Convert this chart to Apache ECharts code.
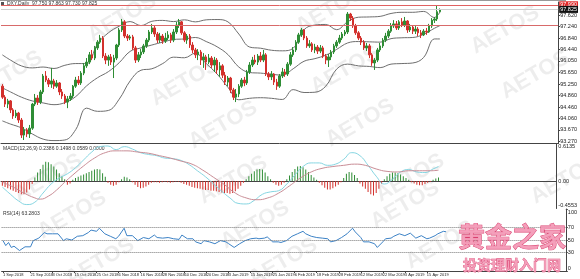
<!DOCTYPE html>
<html><head><meta charset="utf-8">
<script src="https://cdn.jsdelivr.net/npm/echarts@6/dist/echarts.min.js"></script>
<style>html,body{margin:0;padding:0;background:#fff}#c{width:580px;height:279px}</style>
</head><body><div id="c"></div>
<script>
// ---------- data ----------
const dateLabels = ["1 Sep 2018","21 Sep 2018","3 Oct 2018","15 Oct 2018","25 Oct 2018","6 Nov 2018","16 Nov 2018","28 Nov 2018","10 Dec 2018","20 Dec 2018","3 Jan 2019","15 Jan 2019","25 Jan 2019","6 Feb 2019","18 Feb 2019","28 Feb 2019","12 Mar 2019","22 Mar 2019","3 Apr 2019","15 Apr 2019"];
const dateLabelBars = [0,10,18,26,34,42,50,58,66,74,82,90,98,106,114,122,130,138,146,154];
const slotCount = 205;

const open = [95.18,94.80,94.56,94.67,94.36,94.15,94.25,94.01,93.49,93.67,93.53,93.73,94.56,94.77,94.63,94.98,95.53,95.39,95.25,95.36,95.18,95.29,94.98,94.84,94.63,94.74,94.84,95.18,95.39,95.29,95.63,95.88,96.01,96.26,96.15,96.50,96.70,96.84,96.22,96.08,96.19,96.01,96.15,96.60,97.12,97.40,96.91,96.84,96.88,96.50,96.08,96.26,96.36,96.57,96.77,97.05,97.19,96.98,96.77,96.91,96.74,96.84,96.95,96.77,97.05,97.29,97.40,97.02,96.77,96.91,96.60,96.43,96.26,96.36,96.08,96.19,96.01,96.15,95.91,96.08,95.74,95.88,95.56,95.32,95.46,95.05,94.80,94.91,95.18,95.39,95.29,95.67,95.91,96.08,96.01,96.22,96.08,96.26,95.60,95.50,95.60,95.32,95.18,95.53,95.67,95.60,95.94,96.26,96.43,96.70,96.95,97.12,96.84,96.57,96.64,96.43,96.53,96.39,96.50,96.22,96.08,96.19,96.36,96.57,96.70,96.84,96.98,97.05,97.67,97.53,97.26,97.02,96.84,96.70,96.50,96.57,96.26,95.98,96.08,96.43,96.57,96.77,96.91,97.08,97.26,97.33,97.19,97.40,97.29,97.43,97.12,97.22,97.08,97.15,97.02,96.95,97.08,97.05,97.26,97.46,97.50,97.75];
const close = [94.80,94.56,94.67,94.36,94.15,94.25,94.01,93.49,93.67,93.53,93.73,94.56,94.77,94.63,94.98,95.53,95.39,95.25,95.36,95.18,95.29,94.98,94.84,94.63,94.74,94.84,95.18,95.39,95.29,95.63,95.88,96.01,96.26,96.15,96.50,96.70,96.84,96.22,96.08,96.19,96.01,96.15,96.60,97.12,97.40,96.91,96.84,96.88,96.50,96.08,96.26,96.36,96.57,96.77,97.05,97.19,96.98,96.77,96.91,96.74,96.84,96.95,96.77,97.05,97.29,97.40,97.02,96.77,96.91,96.60,96.43,96.26,96.36,96.08,96.19,96.01,96.15,95.91,96.08,95.74,95.88,95.56,95.32,95.46,95.05,94.80,94.91,95.18,95.39,95.29,95.67,95.91,96.08,96.01,96.22,96.08,96.26,95.60,95.50,95.60,95.32,95.18,95.53,95.67,95.60,95.94,96.26,96.43,96.70,96.95,97.12,96.84,96.57,96.64,96.43,96.53,96.39,96.50,96.22,96.08,96.19,96.36,96.57,96.70,96.84,96.98,97.05,97.67,97.53,97.26,97.02,96.84,96.70,96.50,96.57,96.26,95.98,96.08,96.43,96.57,96.77,96.91,97.08,97.26,97.33,97.19,97.40,97.29,97.43,97.12,97.22,97.08,97.15,97.02,96.95,97.08,97.05,97.26,97.46,97.50,97.75,97.825];
const high = [95.25,94.87,94.74,94.70,94.42,94.36,94.29,94.08,93.77,93.73,93.84,94.60,94.91,94.87,95.05,95.60,95.70,95.46,95.81,95.43,95.39,95.32,95.08,94.91,94.84,94.94,95.22,95.50,95.53,95.70,95.98,96.15,96.36,96.43,96.57,96.77,96.95,96.91,96.32,96.26,96.29,96.26,96.64,97.19,97.50,97.46,96.98,96.95,96.95,96.57,96.36,96.46,96.64,96.84,97.12,97.33,97.26,97.05,97.02,96.98,97.02,97.08,97.02,97.15,97.40,97.50,97.43,97.08,96.98,96.98,96.70,96.50,96.46,96.43,96.32,96.26,96.29,96.22,96.19,96.15,96.01,95.94,95.67,95.53,95.50,95.12,95.08,95.25,95.46,95.50,95.74,96.01,96.19,96.26,96.29,96.36,96.43,96.32,95.67,95.70,95.63,95.43,95.60,95.81,95.77,96.01,96.36,96.53,96.77,97.02,97.19,97.15,96.91,96.77,96.70,96.64,96.60,96.60,96.57,96.29,96.29,96.43,96.64,96.77,96.95,97.05,97.12,97.74,97.71,97.60,97.33,97.08,96.91,96.77,96.67,96.64,96.32,96.15,96.50,96.67,96.84,97.02,97.15,97.36,97.46,97.43,97.46,97.53,97.57,97.46,97.33,97.29,97.26,97.22,97.12,97.15,97.19,97.33,97.53,97.57,97.95,97.863];
const low = [94.74,94.46,94.42,94.25,94.05,94.08,93.91,93.39,93.32,93.42,93.39,93.67,94.49,94.53,94.56,94.91,95.32,95.15,95.12,95.08,95.12,94.87,94.74,94.56,94.42,94.67,94.77,95.12,95.22,95.22,95.56,95.81,95.94,96.08,96.08,96.43,96.64,96.15,95.94,95.88,95.91,95.46,96.08,96.53,97.05,96.84,96.74,96.77,96.43,95.98,96.01,96.15,96.29,96.50,96.70,96.98,96.88,96.67,96.67,96.64,96.67,96.77,96.67,96.70,96.98,97.19,96.95,96.70,96.64,96.50,96.32,96.15,96.08,95.91,95.81,95.74,95.94,95.81,95.67,95.60,95.50,95.46,95.22,95.18,94.94,94.70,94.63,94.80,95.12,95.18,95.22,95.60,95.84,95.94,95.91,96.01,96.01,95.53,95.39,95.39,95.22,95.05,95.12,95.46,95.50,95.53,95.88,96.19,96.36,96.64,96.88,96.77,96.50,96.50,96.36,96.32,96.29,96.32,96.15,95.94,95.84,96.08,96.29,96.50,96.64,96.77,96.91,96.98,97.43,97.19,96.95,96.77,96.60,96.43,96.39,96.15,95.88,95.74,96.01,96.36,96.50,96.70,96.84,97.02,97.19,97.12,97.12,97.22,97.22,97.02,97.05,96.98,96.98,96.91,96.84,96.91,96.95,97.02,97.19,97.36,97.43,97.73];

const bbBars   = [0,3,7,11,15,19,23,27,31,35,39,43,47,51,55,59,63,67,71,75,79,83,87,91,95,99,103,107,111,115,119,123,127,131,135,139,143,147,151,155,159,161];
const bbUpper  = [96.26,96.08,95.88,95.81,95.84,95.79,95.90,95.96,95.96,96.64,97.02,97.25,97.41,97.27,97.42,97.45,97.41,97.47,97.40,97.47,97.48,97.40,96.98,96.53,96.49,96.42,96.40,96.49,97.13,97.29,97.31,97.13,97.40,97.56,97.57,97.59,97.69,97.73,97.73,97.76,97.55,97.74];
const bbMiddle = [95.12,94.98,94.80,94.67,94.60,94.54,94.61,94.82,95.19,95.47,95.68,95.99,96.38,96.50,96.60,96.70,96.79,96.81,96.86,96.72,96.54,96.27,95.84,95.65,95.63,95.59,95.56,95.78,96.04,96.13,96.25,96.45,96.67,96.72,96.71,96.70,96.82,96.85,96.86,96.97,97.18,97.27];
const bbLower  = [93.98,93.87,93.74,93.53,93.35,93.30,93.32,93.68,94.42,94.31,94.34,94.73,95.36,95.73,95.78,95.96,96.18,96.16,96.32,95.96,95.60,95.14,94.71,94.76,94.78,94.76,94.72,95.06,94.96,94.97,95.18,95.77,95.94,95.88,95.86,95.82,95.94,95.96,95.98,96.17,96.81,96.81];

const priceTicks = [97.620,97.240,96.840,96.440,96.050,95.650,95.250,94.860,94.460,94.060,93.670,93.270];
const levelLines = [97.99, 97.29];
const lastPrice = 97.825;

const macdHist = [-0.08,-0.10,-0.12,-0.14,-0.16,-0.18,-0.20,-0.22,-0.22,-0.19,-0.14,-0.05,
 0.06,0.14,0.20,0.27,0.32,0.31,0.28,0.24,0.19,0.13,0.08,0.03,
 -0.06,-0.04,
 0.02,0.05,0.07,0.09,0.11,0.13,0.15,0.17,0.19,0.20,0.19,0.13,0.07,
 -0.03,-0.06,-0.08,-0.06,-0.02,
 0.03,0.07,0.06,0.03,
 -0.02,-0.06,-0.10,-0.12,-0.11,-0.09,-0.06,-0.03,
 -0.02,-0.02,-0.03,-0.02,-0.01,-0.02,-0.03,-0.02,-0.01,-0.01,
 -0.03,-0.05,-0.06,-0.08,-0.10,-0.11,-0.12,-0.13,-0.14,-0.15,-0.15,-0.16,-0.16,-0.17,-0.18,-0.19,-0.20,-0.20,-0.21,-0.20,-0.17,-0.13,-0.08,-0.03,
 0.03,0.08,0.12,0.16,0.19,0.20,0.19,0.14,0.08,0.03,
 -0.03,-0.06,-0.08,-0.06,-0.03,
 0.03,0.09,0.15,0.20,0.24,0.25,0.23,0.19,0.15,0.10,0.06,0.02,
 -0.03,-0.07,-0.11,-0.14,-0.14,-0.12,-0.09,-0.06,-0.02,
 0.05,0.12,0.15,0.14,0.10,0.05,
 -0.04,-0.09,-0.13,-0.18,-0.22,-0.24,-0.20,-0.13,-0.05,
 0.03,0.08,0.12,0.14,0.14,0.13,0.11,0.08,0.05,0.02,
 -0.02,-0.04,-0.06,-0.07,-0.07,-0.05,-0.03,-0.01,
 0.02,0.04,0.0589];
const macdMainBars = [0,3,6,9,12,15,18,21,24,27,30,33,36,39,42,45,48,51,54,57,60,63,66,69,72,75,78,81,84,87,90,93,96,99,102,105,108,111,114,117,120,123,126,129,132,135,138,141,144,147,150,153,156,159,161];
const macdMain = [-0.10,-0.22,-0.33,-0.39,-0.35,-0.20,-0.05,0.05,0.12,0.22,0.35,0.48,0.57,0.58,0.52,0.57,0.53,0.47,0.44,0.42,0.38,0.37,0.34,0.27,0.17,0.07,-0.05,-0.17,-0.28,-0.37,-0.38,-0.32,-0.22,-0.18,-0.16,-0.05,0.10,0.24,0.30,0.30,0.26,0.28,0.36,0.47,0.42,0.26,0.08,-0.05,0.03,0.15,0.19,0.15,0.14,0.20,0.24];
const macdSignalBars = [0,4,8,12,14,17,20,23,26,30,34,38,42,46,50,54,58,62,66,70,74,78,82,86,90,94,98,102,106,110,114,118,122,126,130,134,138,142,146,150,154,158,161];
const macdSignal = [-0.02,-0.10,-0.20,-0.28,-0.30,-0.25,-0.15,-0.02,0.10,0.25,0.38,0.47,0.50,0.50,0.48,0.46,0.42,0.38,0.33,0.28,0.18,0.06,-0.06,-0.20,-0.28,-0.31,-0.28,-0.20,-0.08,0.05,0.15,0.21,0.24,0.26,0.28,0.26,0.20,0.16,0.15,0.17,0.17,0.17,0.18];
const macdRange = [-0.4553, 0.6135];

const rsiBars = [0,1,2,3,4,6,8,10,11,13,15,16,18,20,22,23,25,27,29,31,32,34,35,37,39,41,42,44,45,47,49,51,53,55,56,58,60,62,64,65,67,69,70,72,73,75,77,79,81,82,84,86,88,90,92,93,95,96,98,100,101,103,105,107,109,110,112,114,116,118,119,121,123,125,127,128,130,131,133,135,136,138,139,141,142,144,146,148,149,150,152,154,155,157,158,160,161];
const rsiValues = [49,41,46,38,40,33,39,39,49,53,62,60,60,60,49,52,50,56,57,62,66,64,69,60,56,52,56,69,57,57,49,54,52,58,54,53,54,52,51,58,52,52,47,44,49,47,44,49,47,44,38,44,49,52,53,52,53,55,47,47,46,49,56,60,64,60,56,54,53,52,47,49,54,60,69,63,54,47,47,44,38,47,52,53,56,60,57,61,57,53,57,52,53,57,60,64,63.28];
const rsiLevels = [70, 50, 30];

// ---------- chart ----------
const cats = Array.from({length: slotCount}, (_, i) => String(i));
const labelMap = {};
dateLabelBars.forEach((b, k) => labelMap[b] = dateLabels[k]);
const showLabel = (idx) => labelMap[idx] !== undefined;
const pairs = (bars, vals) => bars.map((b, k) => [b, vals[k]]);

const UP = '#2f8d35', DOWN = '#d3302c';
const gridL = 1, gridR = 14;
const xBase = {type: 'category', data: cats, boundaryGap: true, axisTick: {show: false}, axisLabel: {show: false},
  axisLine: {show: true, lineStyle: {color: '#444', width: 1}}, splitLine: {show: false}};
const yBase = {position: 'right', splitLine: {show: false},
  axisLine: {show: true, lineStyle: {color: '#444', width: 1}},
  axisTick: {show: true, length: 2, lineStyle: {color: '#444'}},
  axisLabel: {fontSize: 5.5, color: '#222', margin: 2, fontFamily: 'Liberation Sans'}};

const wm = [[122,18],[330,10],[505,30],[8,75],[185,82],[345,70],[535,75],[223,125],[360,123],[48,178],[233,180],[410,178],[565,180],[72,215],[255,225],[405,205],[100,262],[283,262],[440,245]];
const graphics = wm.map(([x, y]) => ({type: 'text', x, y, rotation: Math.PI / 6, silent: true, z: 0,
  style: {text: 'AETOS', font: 'bold 22px "Liberation Sans"', fill: 'rgba(0,0,0,0.07)', textAlign: 'center', textVerticalAlign: 'middle', align: 'center', verticalAlign: 'middle'}}));
graphics.push(
  {type: 'line', silent: true, shape: {x1: 0, y1: 0.5, x2: 566, y2: 0.5}, style: {stroke: '#999', lineWidth: 1}},
  {type: 'rect', silent: true, shape: {x: 1, y: 2, width: 3, height: 3}, style: {fill: '#555'}},
  {type: 'text', silent: true, x: 7, y: 1.5, style: {text: 'DXY,Daily  97.750 97.863 97.730 97.825', font: '5px "Liberation Sans"', fill: '#333'}},
  {type: 'text', silent: true, x: 3, y: 146, style: {text: 'MACD(12,26,9) 0.2386 0.1498 0.0589 0.0000', font: '5px "Liberation Sans"', fill: '#333'}},
  {type: 'text', silent: true, x: 3, y: 211, style: {text: 'RSI(14) 63.2803', font: '5px "Liberation Sans"', fill: '#333'}},
  {type: 'text', silent: true, x: 512, y: 237, z: 10, style: {text: '黄金之家', font: 'bold 27px "Noto Sans CJK SC"', fill: 'rgba(243,150,180,0.9)', stroke: '#d8406e', lineWidth: 0.8, textAlign: 'center', textVerticalAlign: 'middle', align: 'center', verticalAlign: 'middle'}},
  {type: 'text', silent: true, x: 512, y: 265, z: 10, style: {text: '投资理财入门网', font: 'bold 14px "Noto Sans CJK SC"', fill: 'rgba(243,150,180,0.9)', stroke: '#d8406e', lineWidth: 0.6, textAlign: 'center', textVerticalAlign: 'middle', align: 'center', verticalAlign: 'middle'}}
);

const chart = echarts.init(document.getElementById('c'), null, {renderer: 'canvas'});
chart.setOption({
  animation: false,
  backgroundColor: '#fff',
  grid: [
    {left: gridL, right: gridR, top: 2, height: 141.5},
    {left: gridL, right: gridR, top: 144, height: 64.5},
    {left: gridL, right: gridR, top: 209, height: 62}
  ],
  xAxis: [
    Object.assign({}, xBase, {gridIndex: 0}),
    Object.assign({}, xBase, {gridIndex: 1}),
    Object.assign({}, xBase, {gridIndex: 2,
      axisTick: {show: true, interval: showLabel, length: 2, alignWithLabel: true, lineStyle: {color: '#444'}},
      axisLabel: {show: true, interval: showLabel, showMinLabel: true, hideOverlap: false, formatter: (v, i) => labelMap[i] || '', fontSize: 4, color: '#222', align: 'left', margin: 2, fontFamily: 'Liberation Sans'}})
  ],
  yAxis: [
    Object.assign({}, yBase, {gridIndex: 0, min: 93.199, max: 98.086,
      axisTick: Object.assign({}, yBase.axisTick, {customValues: priceTicks}),
      axisLabel: Object.assign({}, yBase.axisLabel, {customValues: priceTicks, formatter: v => v.toFixed(3)})}),
    Object.assign({}, yBase, {gridIndex: 1, min: macdRange[0], max: macdRange[1],
      axisTick: {show: false},
      axisLabel: Object.assign({}, yBase.axisLabel, {customValues: [0.57, 0, -0.41],
        formatter: v => v > 0.3 ? macdRange[1].toFixed(4) : (v < -0.2 ? macdRange[0].toFixed(4) : '0.00')})}),
    Object.assign({}, yBase, {gridIndex: 2, min: 0, max: 100,
      axisTick: Object.assign({}, yBase.axisTick, {customValues: [100, 70, 50, 30, 0]}),
      axisLabel: Object.assign({}, yBase.axisLabel, {customValues: [95, 70, 50, 30, 4],
        formatter: v => v > 90 ? '100' : (v < 10 ? '0' : String(v))})})
  ],
  graphic: graphics,
  series: [
    {type: 'candlestick', xAxisIndex: 0, yAxisIndex: 0, barWidth: 2, z: 3,
      data: close.map((c, i) => [open[i], c, low[i], high[i]]),
      itemStyle: {color: UP, color0: DOWN, borderColor: UP, borderColor0: DOWN, borderWidth: 1},
      markLine: {silent: true, symbol: ['none', 'none'], animation: false,
        data: [
          {yAxis: levelLines[0], lineStyle: {color: '#e06060', width: 1, type: 'solid'},
            label: {show: true, position: 'end', formatter: levelLines[0].toFixed(3), color: '#fff', backgroundColor: '#e02828', fontSize: 5.5, padding: [1, 1, 0, 1], distance: 1}},
          {yAxis: levelLines[1], lineStyle: {color: '#d86a6a', width: 1, type: 'solid'}, label: {show: false}},
          {yAxis: lastPrice, lineStyle: {color: '#cfcfcf', width: 1, type: 'solid'},
            label: {show: true, position: 'end', formatter: lastPrice.toFixed(3), color: '#fff', backgroundColor: '#111', fontSize: 5.5, padding: [1, 1, 0, 1], distance: 1}}
        ]}},
    {type: 'line', xAxisIndex: 0, yAxisIndex: 0, data: pairs(bbBars, bbUpper), smooth: 0.4, symbol: 'none', lineStyle: {color: '#6e6e6e', width: 1}, z: 2},
    {type: 'line', xAxisIndex: 0, yAxisIndex: 0, data: pairs(bbBars, bbMiddle), smooth: 0.4, symbol: 'none', lineStyle: {color: '#6e6e6e', width: 1}, z: 2},
    {type: 'line', xAxisIndex: 0, yAxisIndex: 0, data: pairs(bbBars, bbLower), smooth: 0.4, symbol: 'none', lineStyle: {color: '#6e6e6e', width: 1}, z: 2},
    {type: 'bar', xAxisIndex: 1, yAxisIndex: 1, barWidth: 1, z: 3,
      data: macdHist.map(v => ({value: v, itemStyle: {color: v >= 0 ? UP : DOWN}}))},
    {type: 'line', xAxisIndex: 1, yAxisIndex: 1, data: pairs(macdMainBars, macdMain), smooth: 0.5, symbol: 'none', lineStyle: {color: '#86d6e2', width: 1}, z: 4},
    {type: 'line', xAxisIndex: 1, yAxisIndex: 1, data: pairs(macdSignalBars, macdSignal), smooth: 0.5, symbol: 'none', lineStyle: {color: '#c98d96', width: 1}, z: 4},
    {type: 'line', xAxisIndex: 2, yAxisIndex: 2, data: pairs(rsiBars, rsiValues), symbol: 'none', lineStyle: {color: '#3c82c6', width: 1}, z: 4,
      markLine: {silent: true, symbol: ['none', 'none'], animation: false, label: {show: false},
        lineStyle: {color: '#777', type: 'dotted', width: 1},
        data: rsiLevels.map(v => ({yAxis: v}))}}
  ]
});
</script>
</body></html>
